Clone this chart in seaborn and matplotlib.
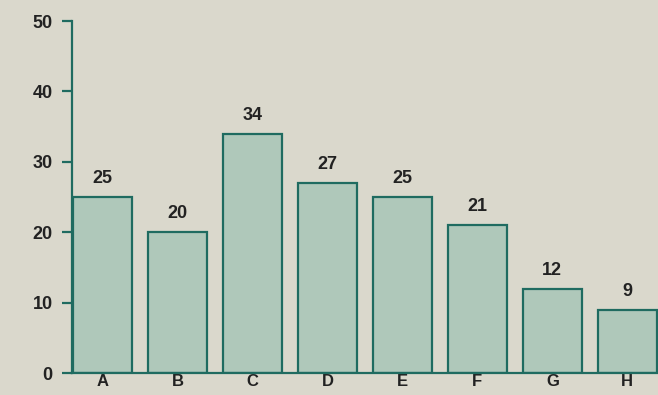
import matplotlib
matplotlib.use("Agg")
import matplotlib.pyplot as plt
import seaborn as sns
import pandas as pd

categories = ["A", "B", "C", "D", "E", "F", "G", "H"]
values = [25, 20, 34, 27, 25, 21, 12, 9]
yticks = [0, 10, 20, 30, 40, 50]

sns.set_style("white")
plt.rcParams["font.family"] = ["Liberation Sans", "DejaVu Sans"]

bg = "#dad8cc"
fill = "#afc8ba"
edge = "#1f6b60"
txt = "#222222"

fig = plt.figure(figsize=(6.58, 3.95), dpi=100, facecolor=bg)
ax = fig.add_axes([72/658, 22/395, (658-72)/658, (373-21)/395])
ax.set_facecolor(bg)

df = pd.DataFrame({"cat": categories, "val": values})
sns.barplot(data=df, x="cat", y="val", ax=ax, color=fill, saturation=1,
            width=0.78, edgecolor=edge, linewidth=1.6)

for i, v in enumerate(values):
    ax.text(i, v + 1.4, str(v), ha="center", va="bottom", fontsize=13,
            fontweight="bold", color=txt)

ax.set_xlim(-0.41, 7.41)
ax.set_ylim(0, 50)
ax.set_yticks(yticks)
ax.set_xlabel("")
ax.set_ylabel("")
for s in ["top", "right"]:
    ax.spines[s].set_visible(False)
for s in ["left", "bottom"]:
    ax.spines[s].set_color(edge)
    ax.spines[s].set_linewidth(1.6)
ax.tick_params(axis="y", left=True, length=7, width=1.6, color=edge, pad=7,
               labelsize=13, labelcolor=txt)
ax.tick_params(axis="x", bottom=False, length=0, pad=1, labelsize=12, labelcolor=txt)
for lab in ax.get_yticklabels() + ax.get_xticklabels():
    lab.set_fontweight("bold")

fig.savefig("out.png", dpi=100, facecolor=bg)
